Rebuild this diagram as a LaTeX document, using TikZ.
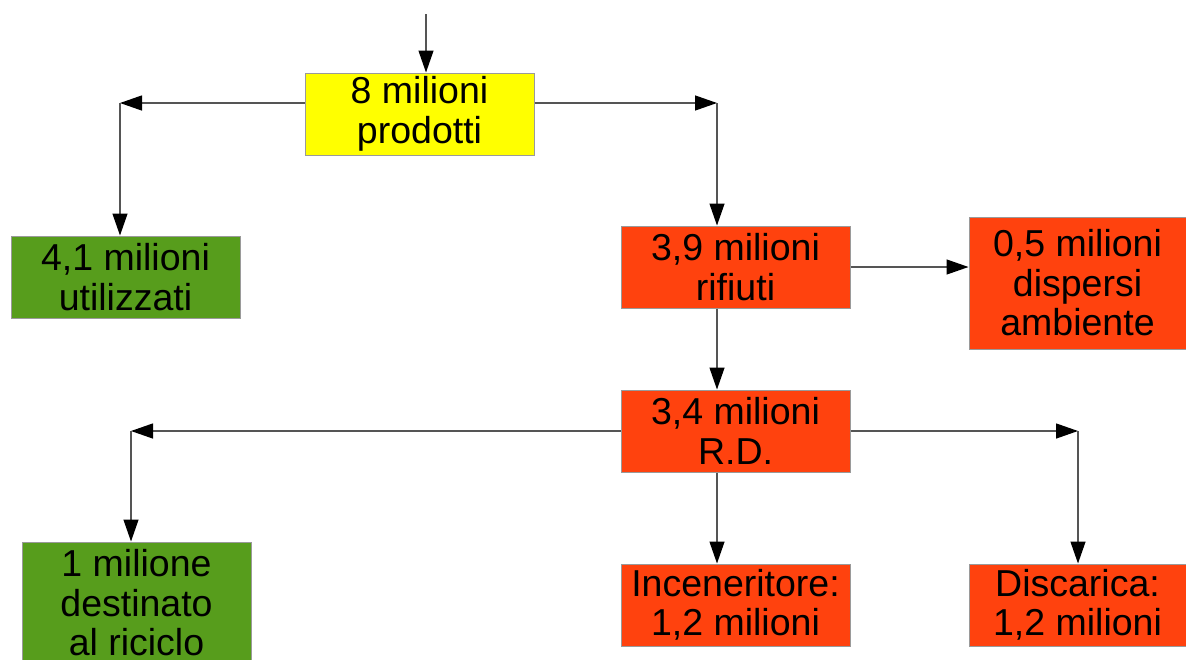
\documentclass[tikz,border=0pt]{standalone}
\usepackage{fontspec}
\setmainfont{Liberation Sans}
\usetikzlibrary{arrows.meta}
\definecolor{boxyellow}{HTML}{FFFF00}
\definecolor{boxgreen}{HTML}{579D1C}
\definecolor{boxorange}{HTML}{FF420E}
\definecolor{linegray}{HTML}{555555}
\definecolor{bordergray}{HTML}{9A9A9A}
\tikzset{
  box/.style={draw=bordergray, line width=1pt, align=center, inner sep=0pt, text=black,
    font=\fontsize{37.5}{39.5}\selectfont, minimum width=229pt, minimum height=82pt},
  ybox/.style={box, fill=boxyellow},
  gbox/.style={box, fill=boxgreen},
  obox/.style={box, fill=boxorange},
  arr/.style={draw=linegray, line width=1.3pt,
    -{Triangle[length=22pt, width=15pt, color=black, fill=black]}},
}
\begin{document}
\begin{tikzpicture}[x=1pt, y=-1pt]
\clip (0,0) rectangle (1186,659);
\fill[white] (0,0) rectangle (1186,659);
\node[ybox] (prod) at (419.5,114) {8 milioni\\prodotti};
\node[gbox] (util) at (125.5,277) {4,1 milioni\\utilizzati};
\node[obox] (rif) at (735.5,267) {3,9 milioni\\rifiuti};
\node[obox, minimum width=217pt, minimum height=132pt] (disp) at (1077.5,283) {0,5 milioni\\dispersi\\ambiente};
\node[obox] (rd) at (735.5,431) {3,4 milioni\\R.D.};
\node[gbox, minimum height=122pt] (ric) at (136.5,603) {1 milione\\destinato\\al riciclo};
\node[obox] (inc) at (735.5,605) {Inceneritore:\\1,2 milioni};
\node[obox, minimum width=217pt] (disc) at (1077.5,605) {Discarica:\\1,2 milioni};
\coordinate (top) at (426,14);
\coordinate (cL) at (120,103);
\coordinate (cR) at (717,103);
\coordinate (cL2) at (131,431);
\coordinate (cR2) at (1078,431);
\draw[arr] (top) -- (top |- prod.north);
\draw[arr] (cL -| prod.west) -- (cL);
\draw[arr] (cL) -- (cL |- util.north);
\draw[arr] (cR -| prod.east) -- (cR);
\draw[arr] (cR) -- (cR |- rif.north);
\draw[arr] (rif.east) -- (rif.east -| disp.west);
\draw[arr] (cR |- rif.south) -- (cR |- rd.north);
\draw[arr] (rd.west) -- (cL2);
\draw[arr] (cL2) -- (cL2 |- ric.north);
\draw[arr] (rd.east) -- (cR2);
\draw[arr] (cR2) -- (cR2 |- disc.north);
\draw[arr] (cR |- rd.south) -- (cR |- inc.north);
\end{tikzpicture}
\end{document}
